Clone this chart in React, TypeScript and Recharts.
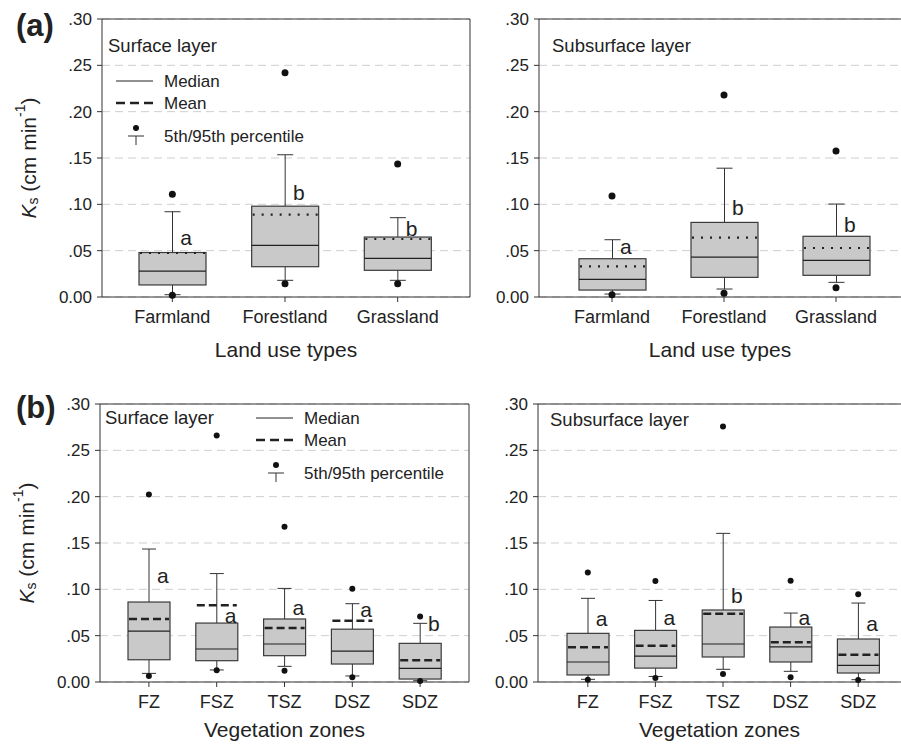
import React from "react";
import { ComposedChart, Bar, Scatter, XAxis, YAxis, CartesianGrid, ReferenceLine } from "recharts";

const landUse = ["Farmland", "Forestland", "Grassland"];
const zones = ["FZ", "FSZ", "TSZ", "DSZ", "SDZ"];
const yTicks = [0, 0.05, 0.1, 0.15, 0.2, 0.25, 0.3];

// (a) land use, surface layer
const aSurfP5 = [0.002, 0.0144, 0.0144];
const aSurfP10 = [0.0025, 0.018, 0.018];
const aSurfQ1 = [0.013, 0.0327, 0.0288];
const aSurfMed = [0.028, 0.0557, 0.0417];
const aSurfQ3 = [0.048, 0.098, 0.0647];
const aSurfP90 = [0.092, 0.1535, 0.0856];
const aSurfP95 = [0.111, 0.242, 0.1435];
const aSurfMean = [0.0475, 0.089, 0.0626];
const aSurfLetter = ["a", "b", "b"];
const aSurfLetterAt = [0.064, 0.1125, 0.0744];

// (a) land use, subsurface layer
const aSubP5 = [0.0025, 0.004, 0.01];
const aSubP10 = [0.0032, 0.0086, 0.0158];
const aSubQ1 = [0.0075, 0.0212, 0.0234];
const aSubMed = [0.019, 0.043, 0.0396];
const aSubQ3 = [0.0413, 0.0805, 0.0655];
const aSubP90 = [0.0618, 0.139, 0.1003];
const aSubP95 = [0.109, 0.218, 0.1575];
const aSubMean = [0.033, 0.064, 0.0529];
const aSubLetter = ["a", "b", "b"];
const aSubLetterAt = [0.054, 0.0963, 0.0787];

// (b) vegetation zones, surface layer
const bSurfP5 = [0.0065, 0.0126, 0.0122, 0.005, 0.001];
const bSurfP10 = [0.0093, 0.013, 0.0169, 0.0065, 0.0014];
const bSurfQ1 = [0.024, 0.023, 0.0284, 0.0194, 0.0032];
const bSurfMed = [0.055, 0.0356, 0.041, 0.0334, 0.0147];
const bSurfQ3 = [0.0863, 0.0636, 0.068, 0.057, 0.0417];
const bSurfP90 = [0.1435, 0.117, 0.101, 0.0845, 0.0633];
const bSurfP95 = [0.2024, 0.266, 0.1676, 0.1007, 0.0708];
const bSurfMean = [0.068, 0.0827, 0.0583, 0.066, 0.0234];
const bSurfLetter = ["a", "a", "a", "a", "b"];
const bSurfLetterAt = [0.1154, 0.0719, 0.0805, 0.0787, 0.0636];

// (b) vegetation zones, subsurface layer
const bSubP5 = [0.0025, 0.0043, 0.0086, 0.005, 0.0022];
const bSubP10 = [0.0029, 0.006, 0.0137, 0.0115, 0.0025];
const bSubQ1 = [0.0076, 0.015, 0.027, 0.0216, 0.0097];
const bSubMed = [0.0216, 0.028, 0.041, 0.038, 0.018];
const bSubQ3 = [0.0525, 0.0557, 0.0777, 0.0593, 0.0464];
const bSubP90 = [0.0903, 0.088, 0.1604, 0.0744, 0.0852];
const bSubP95 = [0.1183, 0.109, 0.2758, 0.1093, 0.0946];
const bSubMean = [0.0374, 0.039, 0.0737, 0.0428, 0.0295];
const bSubLetter = ["a", "a", "b", "a", "a"];
const bSubLetterAt = [0.068, 0.0694, 0.0931, 0.0701, 0.0636];

const FONT = '"Liberation Sans", Arial, sans-serif';
const INK = "#222";

type Row = {
  name: string;
  p5: number;
  p10: number;
  q1: number;
  med: number;
  q3: number;
  p90: number;
  p95: number;
  mean: number;
  letter: string;
  letterAt: number;
};

function buildRows(
  names: string[],
  p5: number[],
  p10: number[],
  q1: number[],
  med: number[],
  q3: number[],
  p90: number[],
  p95: number[],
  mean: number[],
  letter: string[],
  letterAt: number[]
): Row[] {
  return names.map((name, i) => ({
    name,
    p5: p5[i],
    p10: p10[i],
    q1: q1[i],
    med: med[i],
    q3: q3[i],
    p90: p90[i],
    p95: p95[i],
    mean: mean[i],
    letter: letter[i],
    letterAt: letterAt[i],
  }));
}

const aSurf = buildRows(landUse, aSurfP5, aSurfP10, aSurfQ1, aSurfMed, aSurfQ3, aSurfP90, aSurfP95, aSurfMean, aSurfLetter, aSurfLetterAt);
const aSub = buildRows(landUse, aSubP5, aSubP10, aSubQ1, aSubMed, aSubQ3, aSubP90, aSubP95, aSubMean, aSubLetter, aSubLetterAt);
const bSurf = buildRows(zones, bSurfP5, bSurfP10, bSurfQ1, bSurfMed, bSurfQ3, bSurfP90, bSurfP95, bSurfMean, bSurfLetter, bSurfLetterAt);
const bSub = buildRows(zones, bSubP5, bSubP10, bSubQ1, bSubMed, bSubQ3, bSubP90, bSubP95, bSubMean, bSubLetter, bSubLetterAt);

const fmtTick = (v: number) => (v === 0 ? "0.00" : "." + v.toFixed(2).split(".")[1]);

function makeBox(capW: number, meanDash: string, meanW: number) {
  return (props: any) => {
    const { x, width, payload } = props;
    const top = Math.min(props.y, props.y + props.height);
    const h = Math.abs(props.height);
    const p = payload as Row;
    const k = h / (p.q3 - p.q1);
    const py = (v: number) => top + (p.q3 - v) * k;
    const cx = x + width / 2;
    return (
      <g>
        <line x1={cx} x2={cx} y1={py(p.p90)} y2={top} stroke="#333" strokeWidth={1} />
        <line x1={cx - capW / 2} x2={cx + capW / 2} y1={py(p.p90)} y2={py(p.p90)} stroke="#333" strokeWidth={1} />
        <line x1={cx} x2={cx} y1={top + h} y2={py(p.p10)} stroke="#333" strokeWidth={1} />
        <line x1={cx - capW / 2} x2={cx + capW / 2} y1={py(p.p10)} y2={py(p.p10)} stroke="#333" strokeWidth={1} />
        <rect x={x} y={top} width={width} height={h} fill="#c9c9ca" stroke="#3a3a3a" strokeWidth={1.2} />
        <line x1={x} x2={x + width} y1={py(p.med)} y2={py(p.med)} stroke={INK} strokeWidth={1.2} />
        <line x1={x + 1} x2={x + width - 1} y1={py(p.mean)} y2={py(p.mean)} stroke={INK} strokeWidth={meanW} strokeDasharray={meanDash} />
      </g>
    );
  };
}

function makeDot(r: number) {
  return (props: any) => <circle cx={props.cx} cy={props.cy} r={r} fill="#111" />;
}

const letterShape = (props: any) => (
  <text x={props.cx + 8} y={props.cy} dominantBaseline="central" fontSize={21} fontFamily={FONT} fill={INK}>
    {props.payload.letter}
  </text>
);

function KsLabel(props: any) {
  const vb = props.viewBox || { x: 0, y: 0, width: 0, height: 0 };
  const cx = vb.x + vb.width - 74;
  const cy = vb.y + vb.height / 2;
  return (
    <text
      x={cx}
      y={cy}
      transform={`rotate(-90, ${cx}, ${cy})`}
      textAnchor="middle"
      dominantBaseline="central"
      fontSize={21}
      fontFamily={FONT}
      fill={INK}
    >
      <tspan fontStyle="italic">K</tspan>
      <tspan fontSize={14} dy={5}>s</tspan>
      <tspan dy={-5}> (cm min</tspan>
      <tspan fontSize={14} dy={-8}>-1</tspan>
      <tspan dy={8}>)</tspan>
    </text>
  );
}

function AxisTitle(props: any) {
  const vb = props.viewBox || { x: 0, y: 0, width: 0, height: 0 };
  return (
    <text x={vb.x + vb.width / 2} y={vb.y + props.gap} textAnchor="middle" fontSize={21} fontFamily={FONT} fill={INK}>
      {props.text}
    </text>
  );
}

type PanelProps = {
  data: Row[];
  left: number;
  top: number;
  width: number;
  height: number;
  marginLeft: number;
  marginRight: number;
  padL: number;
  padR: number;
  barSize: number;
  capW: number;
  dotR: number;
  meanDash: string;
  meanW: number;
  xTitle: string;
  titleGap: number;
  framed: boolean;
};

function Panel(p: PanelProps) {
  const Box = makeBox(p.capW, p.meanDash, p.meanW);
  const Dot = makeDot(p.dotR);
  return (
    <div style={{ position: "absolute", left: p.left, top: p.top }}>
      <ComposedChart
        width={p.width}
        height={p.height}
        data={p.data}
        margin={{ top: 19, right: p.marginRight, bottom: 0, left: p.marginLeft }}
      >
        <CartesianGrid vertical={false} stroke="#cfcfcf" strokeDasharray="8 5" />
        <XAxis
          dataKey="name"
          padding={{ left: p.padL, right: p.padR }}
          height={p.height - 19 - 278}
          tickSize={5}
          tickMargin={8}
          stroke="#333"
          tick={{ fontSize: 18, fontFamily: FONT, fill: INK }}
          label={<AxisTitle text={p.xTitle} gap={p.titleGap} />}
        />
        <YAxis
          domain={[0, 0.3]}
          ticks={yTicks}
          tickFormatter={fmtTick}
          width={50}
          tickSize={5}
          tickMargin={5}
          stroke="#333"
          tick={{ fontSize: 17, fontFamily: FONT, fill: INK }}
          label={p.framed ? <KsLabel /> : undefined}
        />
        {p.framed && (
          <YAxis
            yAxisId="edge"
            orientation="right"
            domain={[0, 0.3]}
            width={1}
            tick={false}
            tickLine={false}
            stroke="#333"
          />
        )}
        <ReferenceLine y={0.3} stroke="#333" strokeWidth={1} />
        <Bar dataKey={(d: Row) => [d.q1, d.q3]} barSize={p.barSize} shape={Box} isAnimationActive={false} />
        <Scatter dataKey="p95" shape={Dot} isAnimationActive={false} />
        <Scatter dataKey="p5" shape={Dot} isAnimationActive={false} />
        <Scatter dataKey="letterAt" shape={letterShape} isAnimationActive={false} />
      </ComposedChart>
    </div>
  );
}

function Legend(props: { x: number; y: number; dash: string; dashW: number; gap: number }) {
  const { x, y, gap } = props;
  const tx = x + 48;
  return (
    <g fontFamily={FONT} fontSize={17} fill={INK}>
      <line x1={x} x2={x + 37} y1={y} y2={y} stroke={INK} strokeWidth={1} />
      <text x={tx} y={y} dominantBaseline="central">Median</text>
      <line x1={x} x2={x + 37} y1={y + 22} y2={y + 22} stroke={INK} strokeWidth={props.dashW} strokeDasharray={props.dash} />
      <text x={tx} y={y + 22} dominantBaseline="central">Mean</text>
      <circle cx={x + 20} cy={y + 22 + gap} r={3} fill="#111" />
      <line x1={x + 12} x2={x + 28} y1={y + 30 + gap} y2={y + 30 + gap} stroke="#333" strokeWidth={1} />
      <line x1={x + 20} x2={x + 20} y1={y + 30 + gap} y2={y + 39 + gap} stroke="#333" strokeWidth={1} />
      <text x={tx} y={y + 30 + gap} dominantBaseline="central">5th/95th percentile</text>
    </g>
  );
}

export default function App() {
  return (
    <div style={{ position: "fixed", left: 0, top: 0, width: 901, height: 744, overflow: "hidden", background: "#fff" }}>
      <Panel
        data={aSurf}
        left={0}
        top={0}
        width={473}
        height={362}
        marginLeft={52}
        marginRight={2}
        padL={14}
        padR={16}
        barSize={67}
        capW={16}
        dotR={3.5}
        meanDash="2 7"
        meanW={2.2}
        xTitle="Land use types"
        titleGap={60}
        framed
      />
      <Panel
        data={aSub}
        left={437}
        top={0}
        width={464}
        height={362}
        marginLeft={52}
        marginRight={0}
        padL={17}
        padR={9}
        barSize={67}
        capW={16}
        dotR={3.5}
        meanDash="2 7"
        meanW={2.2}
        xTitle="Land use types"
        titleGap={60}
        framed={false}
      />
      <Panel
        data={bSurf}
        left={0}
        top={385}
        width={472}
        height={359}
        marginLeft={50}
        marginRight={2}
        padL={15}
        padR={15}
        barSize={42}
        capW={14}
        dotR={3}
        meanDash="8 4"
        meanW={2.5}
        xTitle="Vegetation zones"
        titleGap={55}
        framed
      />
      <Panel
        data={bSub}
        left={436}
        top={385}
        width={465}
        height={359}
        marginLeft={52}
        marginRight={0}
        padL={16}
        padR={9}
        barSize={42}
        capW={14}
        dotR={3}
        meanDash="8 4"
        meanW={2.5}
        xTitle="Vegetation zones"
        titleGap={55}
        framed={false}
      />
      <svg width={901} height={744} style={{ position: "absolute", left: 0, top: 0, pointerEvents: "none" }}>
        <text x={16} y={36} fontSize={31} fontWeight="bold" fontFamily={FONT} fill={INK}>(a)</text>
        <text x={16} y={418} fontSize={31} fontWeight="bold" fontFamily={FONT} fill={INK}>(b)</text>
        <text x={108} y={45} dominantBaseline="central" fontSize={18.5} fontFamily={FONT} fill={INK}>Surface layer</text>
        <text x={552} y={45} dominantBaseline="central" fontSize={18.5} fontFamily={FONT} fill={INK}>Subsurface layer</text>
        <text x={105} y={417} dominantBaseline="central" fontSize={18.5} fontFamily={FONT} fill={INK}>Surface layer</text>
        <text x={550} y={419} dominantBaseline="central" fontSize={18.5} fontFamily={FONT} fill={INK}>Subsurface layer</text>
        <Legend x={116} y={81} dash="9 5" dashW={2.5} gap={25} />
        <Legend x={256} y={418} dash="9 5" dashW={2.5} gap={25} />
      </svg>
    </div>
  );
}
